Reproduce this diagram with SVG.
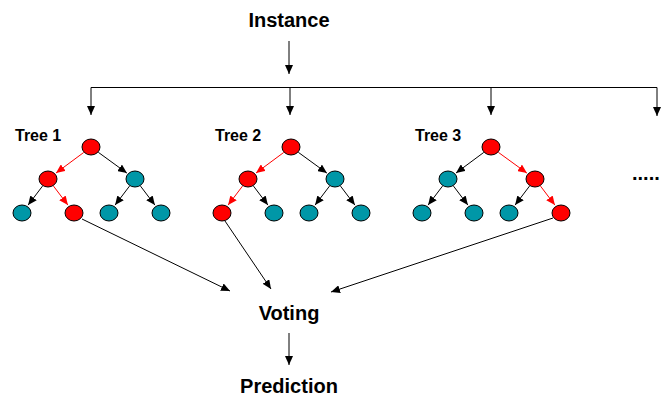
<svg xmlns="http://www.w3.org/2000/svg" width="665" height="396" viewBox="0 0 665 396">
<style>
.lbl{font-family:"Liberation Sans",Arial,sans-serif;font-weight:bold;fill:#000}
.big{font-size:20px;text-anchor:middle}
.tree{font-size:16px}
.r{fill:#FF0000;stroke:#000;stroke-width:1}
.t{fill:#0097A7;stroke:#000;stroke-width:1}
.ek{stroke:#000;stroke-width:1;fill:none}
.er{stroke:#FF0000;stroke-width:1;fill:none}
.c{stroke:#000;stroke-width:1;fill:none}
</style>
<defs>
<marker id="ab" markerUnits="userSpaceOnUse" markerWidth="9" markerHeight="8" refX="9" refY="4" orient="auto"><path d="M0,0 L9,4 L0,8 z" fill="#000"/></marker>
<marker id="ar" markerUnits="userSpaceOnUse" markerWidth="9" markerHeight="8" refX="9" refY="4" orient="auto"><path d="M0,0 L9,4 L0,8 z" fill="#FF0000"/></marker>
</defs>
<rect width="665" height="396" fill="#fff"/>
<g id="instance"><text class="lbl big" x="289" y="27">Instance</text></g>
<g id="voting"><text class="lbl big" x="289" y="320">Voting</text></g>
<g id="prediction"><text class="lbl big" x="289" y="393">Prediction</text></g>
<g id="ellipsis"><text class="lbl" font-size="20" x="632" y="180">.....</text></g>
<g id="connectors">
<line class="c" x1="289" y1="41" x2="289" y2="74" marker-end="url(#ab)"/>
<line class="c" x1="91" y1="87.5" x2="657" y2="87.5" stroke="#666"/>
<line class="c" x1="91" y1="87.5" x2="91" y2="115" marker-end="url(#ab)"/>
<line class="c" x1="290" y1="87.5" x2="290" y2="115" marker-end="url(#ab)"/>
<line class="c" x1="491" y1="87.5" x2="491" y2="115" marker-end="url(#ab)"/>
<line class="c" x1="657" y1="87.5" x2="657" y2="116" marker-end="url(#ab)"/>
<line class="c" x1="82" y1="219" x2="230" y2="291" marker-end="url(#ab)"/>
<line class="c" x1="225" y1="221" x2="271" y2="289" marker-end="url(#ab)"/>
<line class="c" x1="553" y1="218" x2="331" y2="292" marker-end="url(#ab)"/>
<line class="c" x1="289" y1="333" x2="289" y2="365" marker-end="url(#ab)"/>
</g>
<g id="tree1">
<text class="lbl tree" x="15" y="141">Tree 1</text>
<line class="er" x1="83.8" y1="152.4" x2="56" y2="173" marker-end="url(#ar)"/>
<line class="ek" x1="98.3" y1="152.3" x2="126.9" y2="173.1" marker-end="url(#ab)"/>
<line class="ek" x1="42.5" y1="186.1" x2="28.1" y2="205.1" marker-end="url(#ab)"/>
<line class="er" x1="53.5" y1="186.1" x2="67.9" y2="205.1" marker-end="url(#ar)"/>
<line class="ek" x1="129.5" y1="186.1" x2="115.1" y2="205.1" marker-end="url(#ab)"/>
<line class="ek" x1="140.5" y1="186.1" x2="154.9" y2="205.1" marker-end="url(#ab)"/>
<ellipse class="r" cx="91" cy="147" rx="9" ry="8"/>
<ellipse class="r" cx="48" cy="179" rx="9" ry="8"/>
<ellipse class="t" cx="135" cy="179" rx="9" ry="8"/>
<ellipse class="t" cx="22" cy="213" rx="9" ry="8"/>
<ellipse class="r" cx="74" cy="213" rx="9" ry="8"/>
<ellipse class="t" cx="109" cy="213" rx="9" ry="8"/>
<ellipse class="t" cx="161" cy="213" rx="9" ry="8"/>
</g>
<g id="tree2" transform="translate(200,0)">
<text class="lbl tree" x="15" y="141">Tree 2</text>
<line class="er" x1="83.8" y1="152.4" x2="56" y2="173" marker-end="url(#ar)"/>
<line class="ek" x1="98.3" y1="152.3" x2="126.9" y2="173.1" marker-end="url(#ab)"/>
<line class="er" x1="42.5" y1="186.1" x2="28.1" y2="205.1" marker-end="url(#ar)"/>
<line class="ek" x1="53.5" y1="186.1" x2="67.9" y2="205.1" marker-end="url(#ab)"/>
<line class="ek" x1="129.5" y1="186.1" x2="115.1" y2="205.1" marker-end="url(#ab)"/>
<line class="ek" x1="140.5" y1="186.1" x2="154.9" y2="205.1" marker-end="url(#ab)"/>
<ellipse class="r" cx="91" cy="147" rx="9" ry="8"/>
<ellipse class="r" cx="48" cy="179" rx="9" ry="8"/>
<ellipse class="t" cx="135" cy="179" rx="9" ry="8"/>
<ellipse class="r" cx="22" cy="213" rx="9" ry="8"/>
<ellipse class="t" cx="74" cy="213" rx="9" ry="8"/>
<ellipse class="t" cx="109" cy="213" rx="9" ry="8"/>
<ellipse class="t" cx="161" cy="213" rx="9" ry="8"/>
</g>
<g id="tree3" transform="translate(400,0)">
<text class="lbl tree" x="15" y="141">Tree 3</text>
<line class="ek" x1="83.8" y1="152.4" x2="56" y2="173" marker-end="url(#ab)"/>
<line class="er" x1="98.3" y1="152.3" x2="126.9" y2="173.1" marker-end="url(#ar)"/>
<line class="ek" x1="42.5" y1="186.1" x2="28.1" y2="205.1" marker-end="url(#ab)"/>
<line class="ek" x1="53.5" y1="186.1" x2="67.9" y2="205.1" marker-end="url(#ab)"/>
<line class="ek" x1="129.5" y1="186.1" x2="115.1" y2="205.1" marker-end="url(#ab)"/>
<line class="er" x1="140.5" y1="186.1" x2="154.9" y2="205.1" marker-end="url(#ar)"/>
<ellipse class="r" cx="91" cy="147" rx="9" ry="8"/>
<ellipse class="t" cx="48" cy="179" rx="9" ry="8"/>
<ellipse class="r" cx="135" cy="179" rx="9" ry="8"/>
<ellipse class="t" cx="22" cy="213" rx="9" ry="8"/>
<ellipse class="t" cx="74" cy="213" rx="9" ry="8"/>
<ellipse class="t" cx="109" cy="213" rx="9" ry="8"/>
<ellipse class="r" cx="161" cy="213" rx="9" ry="8"/>
</g>
</svg>
